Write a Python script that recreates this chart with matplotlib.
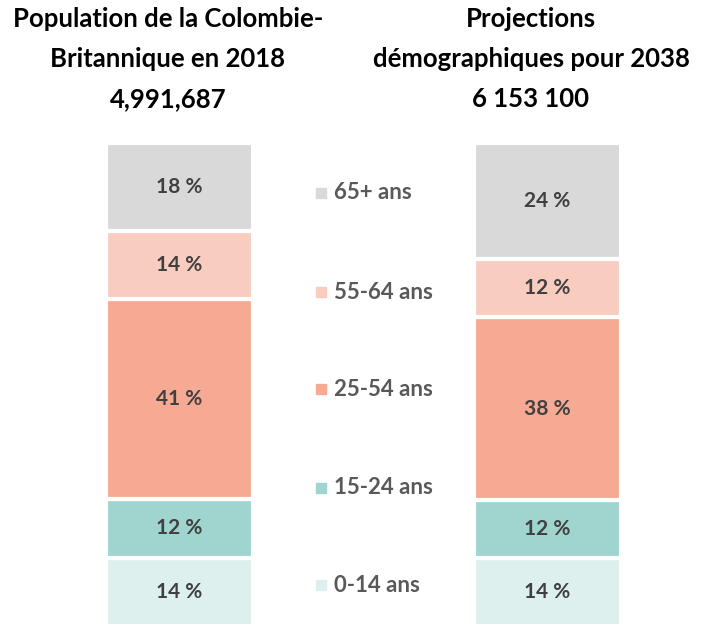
import matplotlib
matplotlib.use('Agg')
import matplotlib.pyplot as plt
import numpy as np

# values (bottom to top)
age_groups = ['0-14 ans', '15-24 ans', '25-54 ans', '55-64 ans', '65+ ans']
pop_2018 = [14, 12, 41, 14, 18]
pop_2038 = [14, 12, 38, 12, 24]
colors = ['#DDF0EE', '#9FD5CE', '#F6AA94', '#F9CCC0', '#D9D9D9']

title_2018 = 'Population de la Colombie-\nBritannique en 2018\n4,991,687'
title_2038 = 'Projections\ndémographiques pour 2038\n6 153 100'

plt.rcParams['font.family'] = ['Lato', 'DejaVu Sans']

W, H = 711, 626
fig = plt.figure(figsize=(W / 100, H / 100), dpi=100)

def bar_axes(x0, x1, data):
    ax = fig.add_axes([x0 / W, 0, (x1 - x0) / W, (H - 143) / H])
    bottom = 0
    for val, col in zip(data, colors):
        ax.bar(0, val, bottom=bottom, width=1, color=col, edgecolor='white', linewidth=3)
        ax.text(0, bottom + val / 2, f'{val} %', ha='center', va='center',
                fontsize=15, fontweight='bold', color='#404040')
        bottom += val
    ax.set_xlim(-0.5, 0.5)
    ax.set_ylim(0, bottom)
    ax.axis('off')
    return ax

a1 = bar_axes(106, 253, pop_2018)
a2 = bar_axes(474, 621, pop_2038)

fig.text(168 / W, 1 - 7 / H, title_2018, ha='center', va='top', fontsize=18.5,
         fontweight='bold', color='black', linespacing=1.8)
fig.text(531 / W, 1 - 7 / H, title_2038, ha='center', va='top', fontsize=18.5,
         fontweight='bold', color='black', linespacing=1.8)

# legend, top to bottom
leg_y = [193, 292, 389, 488, 585]
for lab, col, y in zip(age_groups[::-1], colors[::-1], leg_y):
    fig.patches.append(plt.Rectangle((316 / W, 1 - (y + 5) / H), 10 / W, 10 / H,
                                     transform=fig.transFigure, color=col))
    fig.text(334 / W, 1 - y / H, lab, ha='left', va='center', fontsize=16,
             fontweight='bold', color='#595959')

fig.savefig('out.png', dpi=100, facecolor='white')
